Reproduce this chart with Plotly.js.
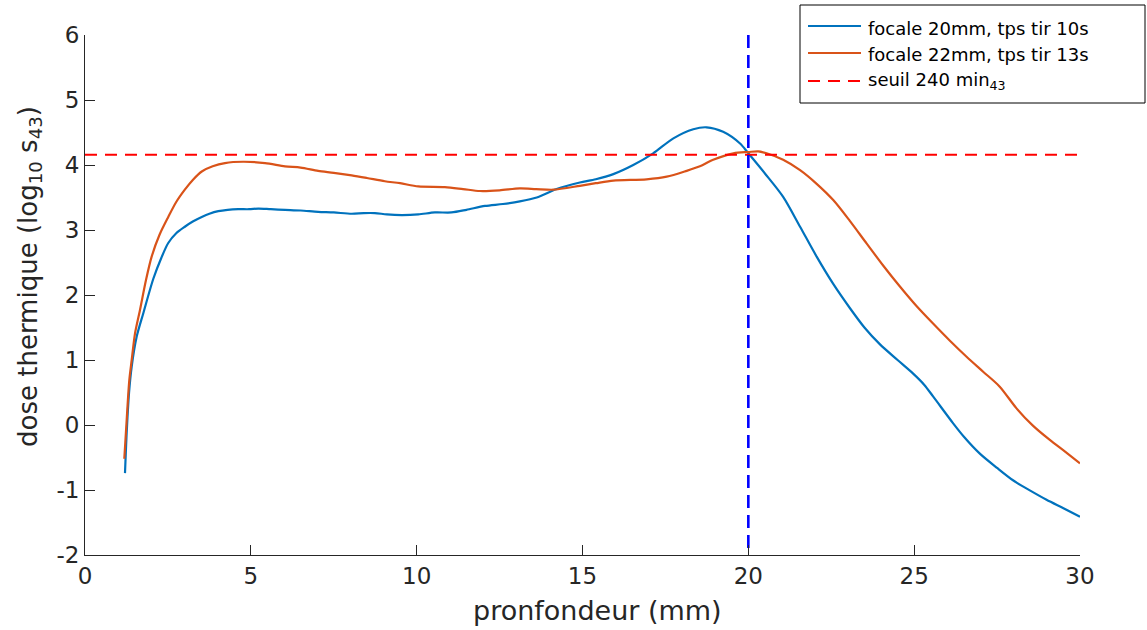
<!DOCTYPE html>
<html>
<head>
<meta charset="utf-8">
<script src="https://cdn.plot.ly/plotly-3.0.1.min.js"></script>
<style>html,body{margin:0;padding:0;background:#fff;}#chart{width:1147px;height:630px;}</style>
</head>
<body>
<div id="chart"></div>
<script>
const blueX = [1.206, 1.257, 1.327, 1.408, 1.559, 1.758, 2.06, 2.3, 2.51, 2.75, 3.01, 3.25, 3.52, 3.75, 4.02, 4.3, 4.62, 4.95, 5.23, 5.6, 6.03, 6.5, 7.03, 7.5, 8.04, 8.4, 8.74, 9.1, 9.55, 10.05, 10.55, 11.05, 11.5, 12.06, 12.6, 13.11, 13.62, 14.22, 14.92, 15.4, 15.93, 16.53, 17.13, 17.74, 18.34, 18.74, 19.24, 19.75, 20.0, 20.5, 21.05, 21.56, 22.06, 22.56, 23.06, 23.5, 23.97, 24.5, 24.97, 25.3, 25.57, 26.17, 26.5, 26.98, 27.5, 27.98, 28.5, 28.99, 29.5, 30.0];
const blueY = [-0.74, -0.12, 0.49, 0.9, 1.36, 1.72, 2.25, 2.57, 2.80, 2.95, 3.05, 3.13, 3.20, 3.25, 3.29, 3.31, 3.32, 3.32, 3.33, 3.32, 3.31, 3.30, 3.28, 3.27, 3.25, 3.26, 3.26, 3.24, 3.23, 3.24, 3.27, 3.27, 3.31, 3.37, 3.40, 3.44, 3.50, 3.63, 3.73, 3.78, 3.86, 4.00, 4.18, 4.41, 4.55, 4.58, 4.51, 4.33, 4.18, 3.87, 3.51, 3.05, 2.59, 2.17, 1.80, 1.50, 1.24, 1.00, 0.79, 0.62, 0.44, 0.03, -0.18, -0.44, -0.66, -0.85, -1.01, -1.15, -1.28, -1.41];
const orangeX = [1.185, 1.257, 1.336, 1.408, 1.508, 1.658, 1.839, 2.01, 2.25, 2.51, 2.75, 3.01, 3.25, 3.52, 3.85, 4.22, 4.77, 5.43, 6.03, 6.5, 7.03, 7.5, 8.04, 8.5, 9.04, 9.5, 10.05, 10.85, 11.4, 11.91, 12.5, 13.11, 13.6, 14.12, 14.92, 15.4, 15.93, 16.93, 17.54, 18.14, 18.54, 18.94, 19.55, 20.0, 20.3, 20.55, 21.05, 21.56, 22.06, 22.56, 23.06, 23.57, 24.07, 24.57, 25.07, 25.57, 26.07, 26.58, 27.08, 27.58, 28.08, 28.58, 29.09, 29.55, 30.0];
const orangeY = [-0.52, 0.08, 0.69, 1.0, 1.41, 1.77, 2.23, 2.59, 2.93, 3.20, 3.43, 3.62, 3.77, 3.90, 3.98, 4.03, 4.05, 4.03, 3.98, 3.96, 3.91, 3.88, 3.84, 3.80, 3.75, 3.72, 3.67, 3.66, 3.63, 3.60, 3.61, 3.64, 3.63, 3.62, 3.68, 3.72, 3.76, 3.78, 3.82, 3.91, 3.98, 4.08, 4.18, 4.20, 4.21, 4.18, 4.08, 3.92, 3.71, 3.46, 3.14, 2.79, 2.45, 2.13, 1.83, 1.56, 1.30, 1.05, 0.82, 0.59, 0.26, -0.01, -0.23, -0.41, -0.59];
const seuilX = [0, 30];
const seuilY = [4.158, 4.158];
const focusX = [20, 20];
const focusY = [6, -2];
const xTicks = [0, 5, 10, 15, 20, 25, 30];
const yTicks = [-2, -1, 0, 1, 2, 3, 4, 5, 6];
const names = ['focale 20mm, tps tir 10s', 'focale 22mm, tps tir 13s', 'seuil 240 min<sub>43</sub>'];
const xTitle = 'pronfondeur (mm)';
const yTitle = 'dose thermique (log<sub>10</sub> s<sub>43</sub>)';
const colors = ['#0072BD', '#D95319', '#FF0000'];
const dashes = ['solid', 'solid', '12px,8px'];

const traces = [
  {x: blueX, y: blueY, mode: 'lines', name: names[0], line: {color: colors[0], width: 2.2, shape: 'spline', smoothing: 0.8}},
  {x: orangeX, y: orangeY, mode: 'lines', name: names[1], line: {color: colors[1], width: 2.2, shape: 'spline', smoothing: 0.8}},
  {x: seuilX, y: seuilY, mode: 'lines', name: names[2], line: {color: colors[2], width: 2.2, dash: dashes[2]}},
  {x: focusX, y: focusY, mode: 'lines', showlegend: false, line: {color: '#0000FF', width: 2.6, dash: '13px,7px'}}
];

// plot-area geometry (px) used to place the custom legend box and titles
const W = 1147, H = 630, L = 85, R = 67, T = 35, B = 75;
const pw = W - L - R, ph = H - T - B;
const px2x = p => (p - L) / pw;
const py2y = p => (H - B - p) / ph;

const shapes = [
  {type: 'rect', xref: 'paper', yref: 'paper', x0: px2x(800), x1: px2x(1145), y0: py2y(103), y1: py2y(5),
   line: {color: '#000', width: 1}, fillcolor: '#fff', layer: 'above'}
];
const annotations = [];
const lineY = [26, 53, 81];
const textY = [28, 55, 81];
names.forEach((n, i) => {
  shapes.push({type: 'line', xref: 'paper', yref: 'paper', x0: px2x(808), x1: px2x(861), y0: py2y(lineY[i]), y1: py2y(lineY[i]),
    line: {color: colors[i], width: 2.2, dash: dashes[i]}, layer: 'above'});
  annotations.push({xref: 'paper', yref: 'paper', x: px2x(866), y: py2y(textY[i]), xanchor: 'left', yanchor: 'middle',
    text: n, showarrow: false, font: {family: 'DejaVu Sans', size: 18, color: '#000'}});
});
annotations.push({xref: 'paper', yref: 'paper', x: px2x(597), y: py2y(610), xanchor: 'center', yanchor: 'middle',
  text: xTitle, showarrow: false, font: {family: 'DejaVu Sans', size: 27, color: '#262626'}});
annotations.push({xref: 'paper', yref: 'paper', x: px2x(29), y: py2y(277), xanchor: 'center', yanchor: 'middle', textangle: -90,
  text: yTitle, showarrow: false, font: {family: 'DejaVu Sans', size: 26, color: '#262626'}});

const axisCommon = {
  showgrid: false, zeroline: false, showline: true, linecolor: '#262626', linewidth: 1,
  ticks: 'inside', ticklen: 10, tickcolor: '#262626', tickwidth: 1, automargin: false,
  tickfont: {family: 'DejaVu Sans', size: 23, color: '#262626'}, mirror: false
};

const layout = {
  width: W, height: H,
  margin: {l: L, r: R, t: T, b: B},
  paper_bgcolor: '#fff', plot_bgcolor: '#fff',
  font: {family: 'DejaVu Sans', color: '#262626'},
  xaxis: Object.assign({}, axisCommon, {range: [0, 30], tickvals: xTicks, ticktext: xTicks.map(String)}),
  yaxis: Object.assign({}, axisCommon, {range: [-2, 6], tickvals: yTicks, ticktext: yTicks.map(String)}),
  shapes: shapes,
  annotations: annotations,
  showlegend: false
};

Plotly.newPlot('chart', traces, layout, {displayModeBar: false, staticPlot: true});
</script>
</body>
</html>
